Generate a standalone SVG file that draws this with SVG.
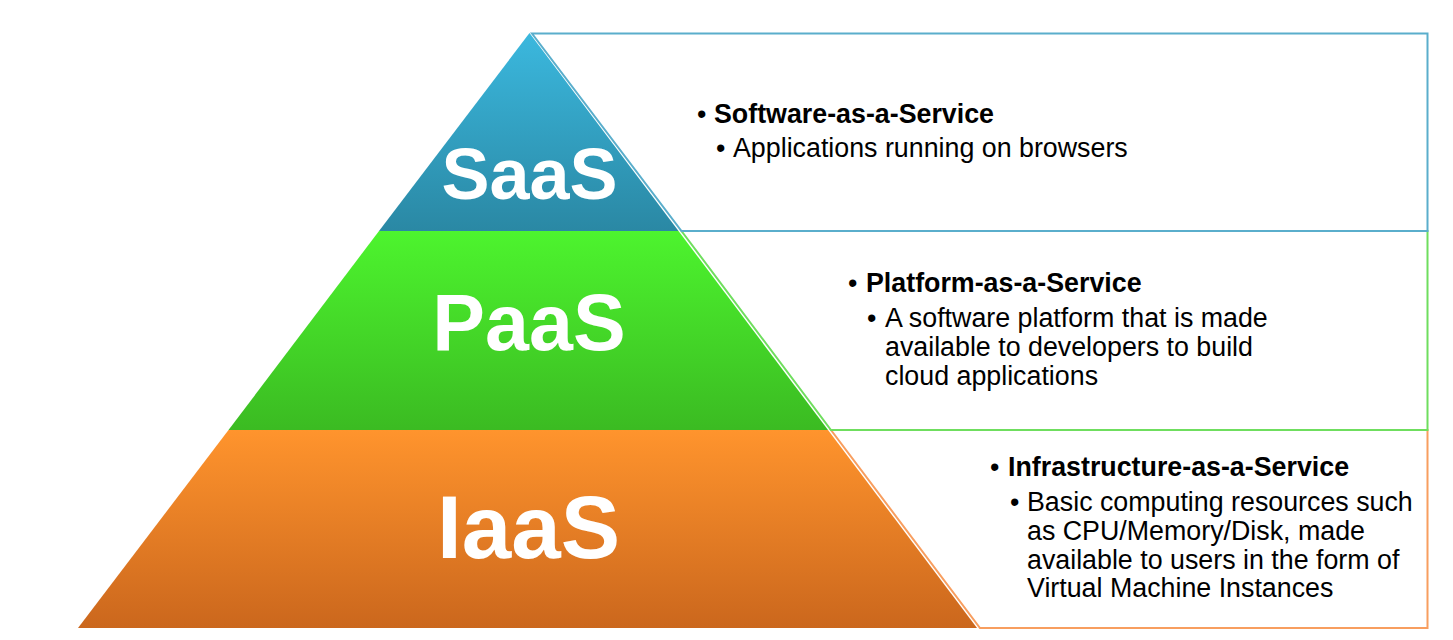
<svg xmlns="http://www.w3.org/2000/svg" width="1453" height="640" viewBox="0 0 1453 640">
<defs>
<linearGradient id="gS" x1="0" y1="0" x2="0" y2="1"><stop offset="0" stop-color="#3bb8de"/><stop offset="1" stop-color="#2a88a4"/></linearGradient>
<linearGradient id="gP" x1="0" y1="0" x2="0" y2="1"><stop offset="0" stop-color="#4df42e"/><stop offset="1" stop-color="#3bbb22"/></linearGradient>
<linearGradient id="gI" x1="0" y1="0" x2="0" y2="1"><stop offset="0" stop-color="#ff942d"/><stop offset="1" stop-color="#cb671d"/></linearGradient>
</defs>
<style>
.lbl{font-family:"Liberation Sans",Arial,sans-serif;font-weight:bold;fill:#ffffff;text-anchor:middle}
.h{font-family:"Liberation Sans",Arial,sans-serif;font-weight:bold;font-size:26.8px;fill:#000}
.t{font-family:"Liberation Sans",Arial,sans-serif;font-size:26.8px;fill:#000}
.box{fill:#ffffff;stroke-width:2}
</style>
<rect width="1453" height="640" fill="#ffffff"/>
<g id="iaas-box"><polygon class="box" stroke="#f89e5f" points="831,430 1427.5,430 1427.5,628 980,628"/></g>
<g id="paas-box"><polygon class="box" stroke="#6fde5e" points="681.5,231 1427.5,231 1427.5,430 831,430"/></g>
<g id="saas-box"><polygon class="box" stroke="#5aaecc" points="532,33.5 1427.5,33.5 1427.5,231 681.5,231"/></g>
<g id="saas">
<polygon fill="url(#gS)" points="529.5,33 678.5,231 379,231"/>
<text class="lbl" x="529.5" y="199" font-size="72">SaaS</text>
</g>
<g id="paas">
<polygon fill="url(#gP)" points="379,231 678.5,231 828,430 228.5,430"/>
<text class="lbl" x="529" y="350" font-size="79">PaaS</text>
</g>
<g id="iaas">
<polygon fill="url(#gI)" points="228.5,430 828,430 977,628 78,628"/>
<text class="lbl" x="528.5" y="558" font-size="89">IaaS</text>
</g>
<g id="saas-text">
<text class="t" x="697" y="123">•</text><text class="h" x="714" y="123">Software-as-a-Service</text>
<text class="t" x="716" y="157">•</text><text class="t" x="733" y="157">Applications running on browsers</text>
</g>
<g id="paas-text">
<text class="t" x="848" y="292">•</text><text class="h" x="866" y="292">Platform-as-a-Service</text>
<text class="t" x="867" y="327">•</text><text class="t" x="885" y="327">A software platform that is made</text>
<text class="t" x="885" y="356">available to developers to build</text>
<text class="t" x="885" y="385">cloud applications</text>
</g>
<g id="iaas-text">
<text class="t" x="990" y="476">•</text><text class="h" x="1008" y="476">Infrastructure-as-a-Service</text>
<text class="t" x="1010" y="511">•</text><text class="t" x="1027" y="511">Basic computing resources such</text>
<text class="t" x="1027" y="540">as CPU/Memory/Disk, made</text>
<text class="t" x="1027" y="569">available to users in the form of</text>
<text class="t" x="1027" y="597">Virtual Machine Instances</text>
</g>
<g id="connectors"></g>
</svg>
